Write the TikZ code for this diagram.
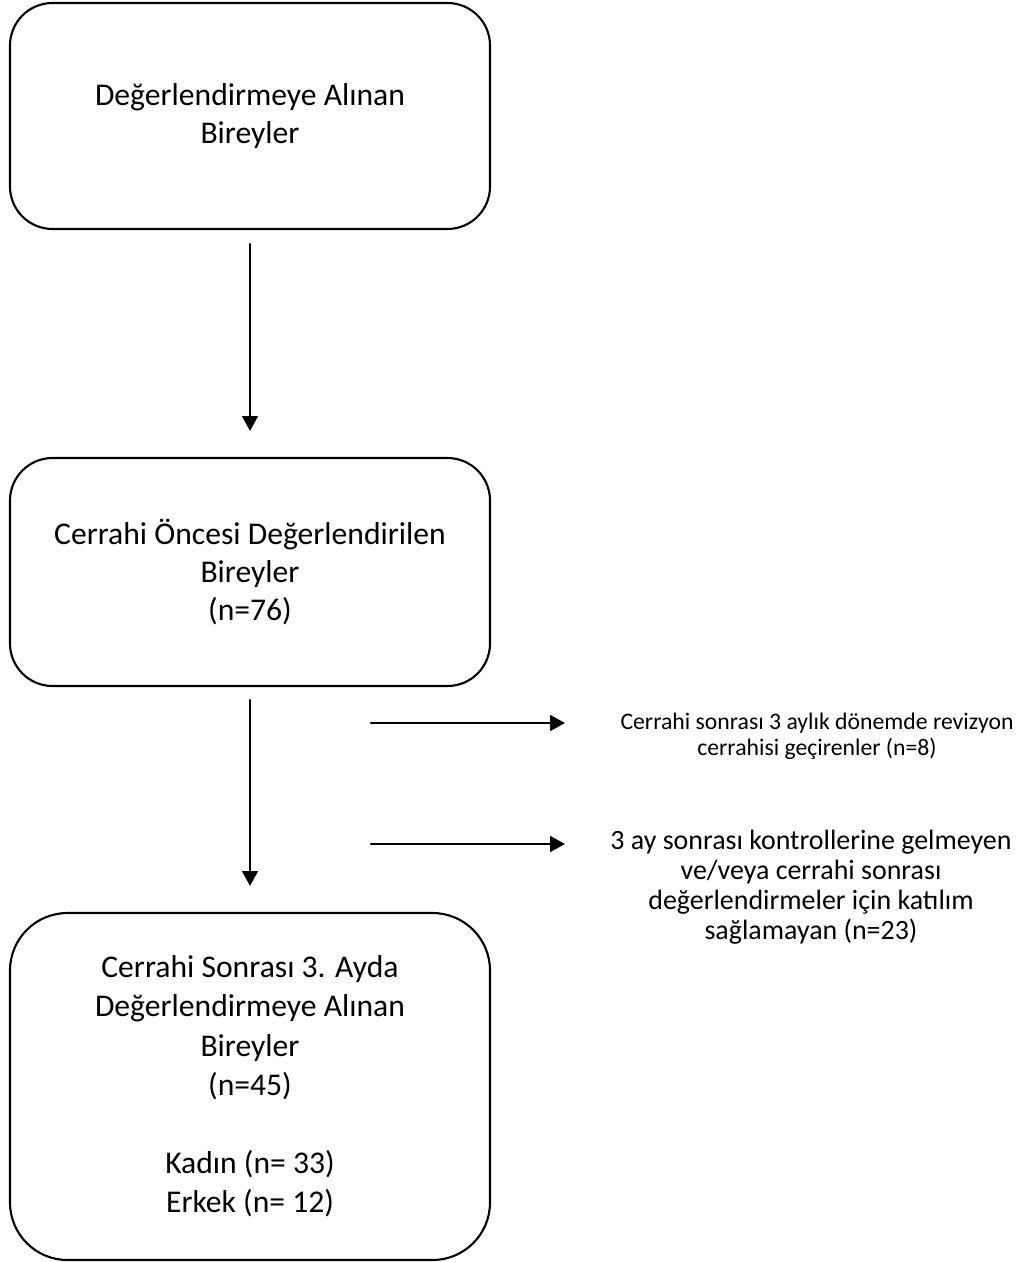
\documentclass[tikz,border=0pt]{standalone}
\usepackage{fontspec}
\setmainfont{Carlito}
\usetikzlibrary{arrows.meta}
\begin{document}
\begin{tikzpicture}[line join=round, line cap=round, >={Triangle[length=8.5pt,width=9pt]},
		kutu/.style={draw, line width=1.2pt, rounded corners=0.85cm, minimum width=9.6cm, align=center, font=\fontsize{18}{21.5}\selectfont},
		yan/.style={align=center, inner sep=0pt},
		ok/.style={->, line width=1.3pt}]
	\useasboundingbox (0,0) rectangle (20.58,-25.24);
		\node[kutu, minimum height=4.52cm] (A) at (5,-2.32) {Değerlendirmeye Alınan\\Bireyler};
		\node[kutu, minimum height=4.56cm] (B) at (5,-11.44) {Cerrahi Öncesi Değerlendirilen\\Bireyler\\(n=76)};
		\node[kutu, minimum height=6.94cm, rounded corners=1.15cm, font=\fontsize{18}{22.3}\selectfont] (C) at (5,-21.73) {Cerrahi Sonrası 3. Ayda\\Değerlendirmeye Alınan\\Bireyler\\(n=45)\\[22.3pt]Kadın (n= 33)\\Erkek (n= 12)};
		\node[yan, font=\fontsize{13.5}{14.8}\selectfont] (R) at (16.34,-14.72) {Cerrahi sonrası 3 aylık dönemde revizyon\\cerrahisi geçirenler (n=8)};
		\node[yan, font=\fontsize{15.9}{17}\selectfont] (K) at (16.22,-17.75) {3 ay sonrası kontrollerine gelmeyen\\ve/veya cerrahi sonrası\\değerlendirmeler için katılım\\sağlamayan (n=23)};
			\coordinate (R1) at (7.42,-14.46);
			\coordinate (R2) at (11.3,-14.46);
			\coordinate (K1) at (7.42,-16.88);
			\coordinate (K2) at (11.3,-16.88);
		\draw[ok, shorten <=0.28cm, shorten >=0.52cm] (A)--(B);
		\draw[ok, shorten <=0.26cm, shorten >=0.52cm] (B)--(C);
		\foreach \p/\q in {R1/R2,K1/K2} \draw[ok] (\p)--(\q);
\end{tikzpicture}
\end{document}
